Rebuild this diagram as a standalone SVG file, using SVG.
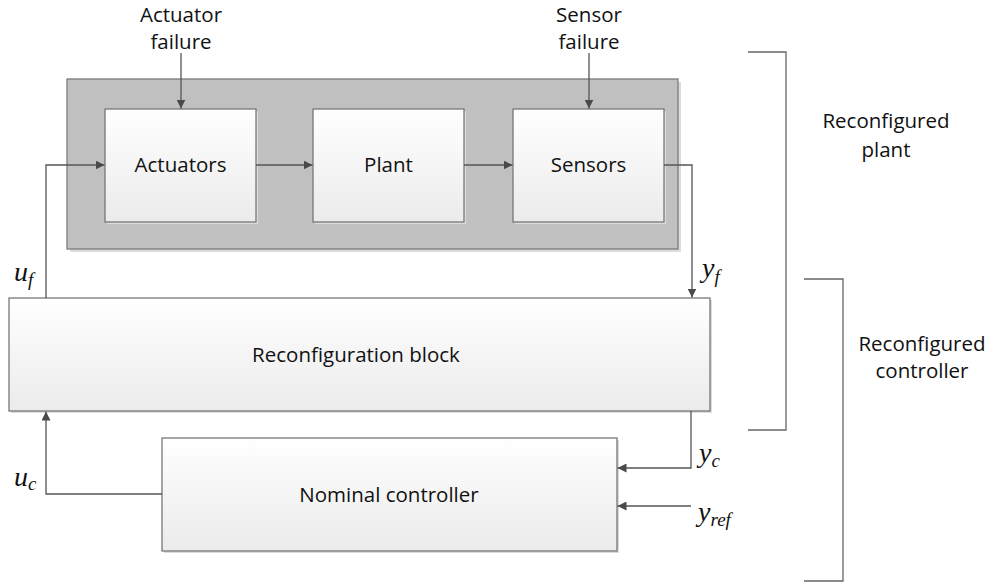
<svg xmlns="http://www.w3.org/2000/svg" width="995" height="585" viewBox="0 0 995 585">
  <defs>
    <linearGradient id="boxFill" x1="0" y1="0" x2="0" y2="1">
      <stop offset="0" stop-color="#ffffff"/>
      <stop offset="1" stop-color="#ebebeb"/>
    </linearGradient>
    <marker id="arrow" viewBox="0 0 10 10" refX="10" refY="5" markerWidth="9" markerHeight="9" markerUnits="userSpaceOnUse" orient="auto">
      <path d="M0,0 L10,5 L0,10 z" fill="#4a4a4a"/>
    </marker>
  </defs>
  <style>
    .box { fill: url(#boxFill); stroke: #777777; stroke-width: 1.3; }
    .shadow { fill: #dcdcdc; }
    .frame { fill: #c0c0c0; stroke: #7b7b7b; stroke-width: 1.3; }
    .label { font-family: "Open Sans", "Noto Sans", sans-serif; font-size: 20.5px; fill: #111111; text-anchor: middle; }
    .math { font-family: "Liberation Serif", "DejaVu Serif", serif; font-style: italic; font-size: 28px; fill: #111111; }
    .sub { font-size: 19px; }
    .wire { fill: none; stroke: #555555; stroke-width: 1.3; }
    .arrowed { marker-end: url(#arrow); }
    .bracket { fill: none; stroke: #666666; stroke-width: 1.3; }
  </style>

  <rect width="995" height="585" fill="#ffffff"/>

  <!-- Reconfigured plant enclosure -->
  <g id="plant-frame">
    <rect class="shadow" x="70" y="82" width="611" height="170"/>
    <rect class="frame" x="67" y="79" width="611" height="170"/>
  </g>

  <g id="actuators">
    <rect class="shadow" x="107" y="111" width="151" height="113"/>
    <rect class="box" x="105" y="109" width="151" height="113"/>
    <text class="label" x="180.5" y="172">Actuators</text>
  </g>

  <g id="plant">
    <rect class="shadow" x="315" y="111" width="151" height="113"/>
    <rect class="box" x="313" y="109" width="151" height="113"/>
    <text class="label" x="388.5" y="172">Plant</text>
  </g>

  <g id="sensors">
    <rect class="shadow" x="515" y="111" width="151" height="113"/>
    <rect class="box" x="513" y="109" width="151" height="113"/>
    <text class="label" x="588.5" y="172">Sensors</text>
  </g>

  <g id="reconfiguration-block">
    <rect class="shadow" x="11" y="300" width="701" height="113"/>
    <rect class="box" x="9" y="298" width="701" height="113"/>
    <text class="label" x="356" y="362">Reconfiguration block</text>
  </g>

  <g id="nominal-controller">
    <rect class="shadow" x="164" y="440" width="455" height="113"/>
    <rect class="box" x="162" y="438" width="455" height="113"/>
    <text class="label" x="389" y="502">Nominal controller</text>
  </g>

  <g id="actuator-failure">
    <text class="label" x="181" y="22">Actuator</text>
    <text class="label" x="181" y="49">failure</text>
  </g>

  <g id="sensor-failure">
    <text class="label" x="589" y="22">Sensor</text>
    <text class="label" x="589" y="49">failure</text>
  </g>

  <g id="reconfigured-plant-label">
    <text class="label" x="886" y="128">Reconfigured</text>
    <text class="label" x="886" y="157">plant</text>
  </g>

  <g id="reconfigured-controller-label">
    <text class="label" x="922" y="351">Reconfigured</text>
    <text class="label" x="922" y="378">controller</text>
  </g>

  <!-- Signal labels -->
  <g id="signal-labels">
    <text class="math" x="14" y="281">u<tspan class="sub" dy="5">f</tspan></text>
    <text class="math" x="14" y="486">u<tspan class="sub" dy="4">c</tspan></text>
    <text class="math" x="702" y="277">y<tspan class="sub" dy="6">f</tspan></text>
    <text class="math" x="699" y="462">y<tspan class="sub" dy="5">c</tspan></text>
    <text class="math" x="698" y="521">y<tspan class="sub" dy="5">ref</tspan></text>
  </g>

  <!-- Connectors -->
  <g id="connectors">
    <line class="wire arrowed" x1="181" y1="53" x2="181" y2="108.5"/>
    <line class="wire arrowed" x1="589" y1="53" x2="589" y2="108.5"/>
    <line class="wire arrowed" x1="256" y1="165" x2="312.5" y2="165"/>
    <line class="wire arrowed" x1="464" y1="165" x2="512.5" y2="165"/>
    <polyline class="wire arrowed" points="664,165 692,165 692,297.5"/>
    <polyline class="wire arrowed" points="46,298 46,165 104.5,165"/>
    <polyline class="wire arrowed" points="162,494 46,494 46,411.5"/>
    <polyline class="wire arrowed" points="691,411 691,468 617.5,468"/>
    <line class="wire arrowed" x1="691" y1="506" x2="617.5" y2="506"/>
  </g>

  <!-- Grouping brackets -->
  <g id="brackets">
    <polyline class="bracket" points="748,52 786,52 786,430 748,430"/>
    <polyline class="bracket" points="804,279 843,279 843,581 804,581"/>
  </g>
</svg>
